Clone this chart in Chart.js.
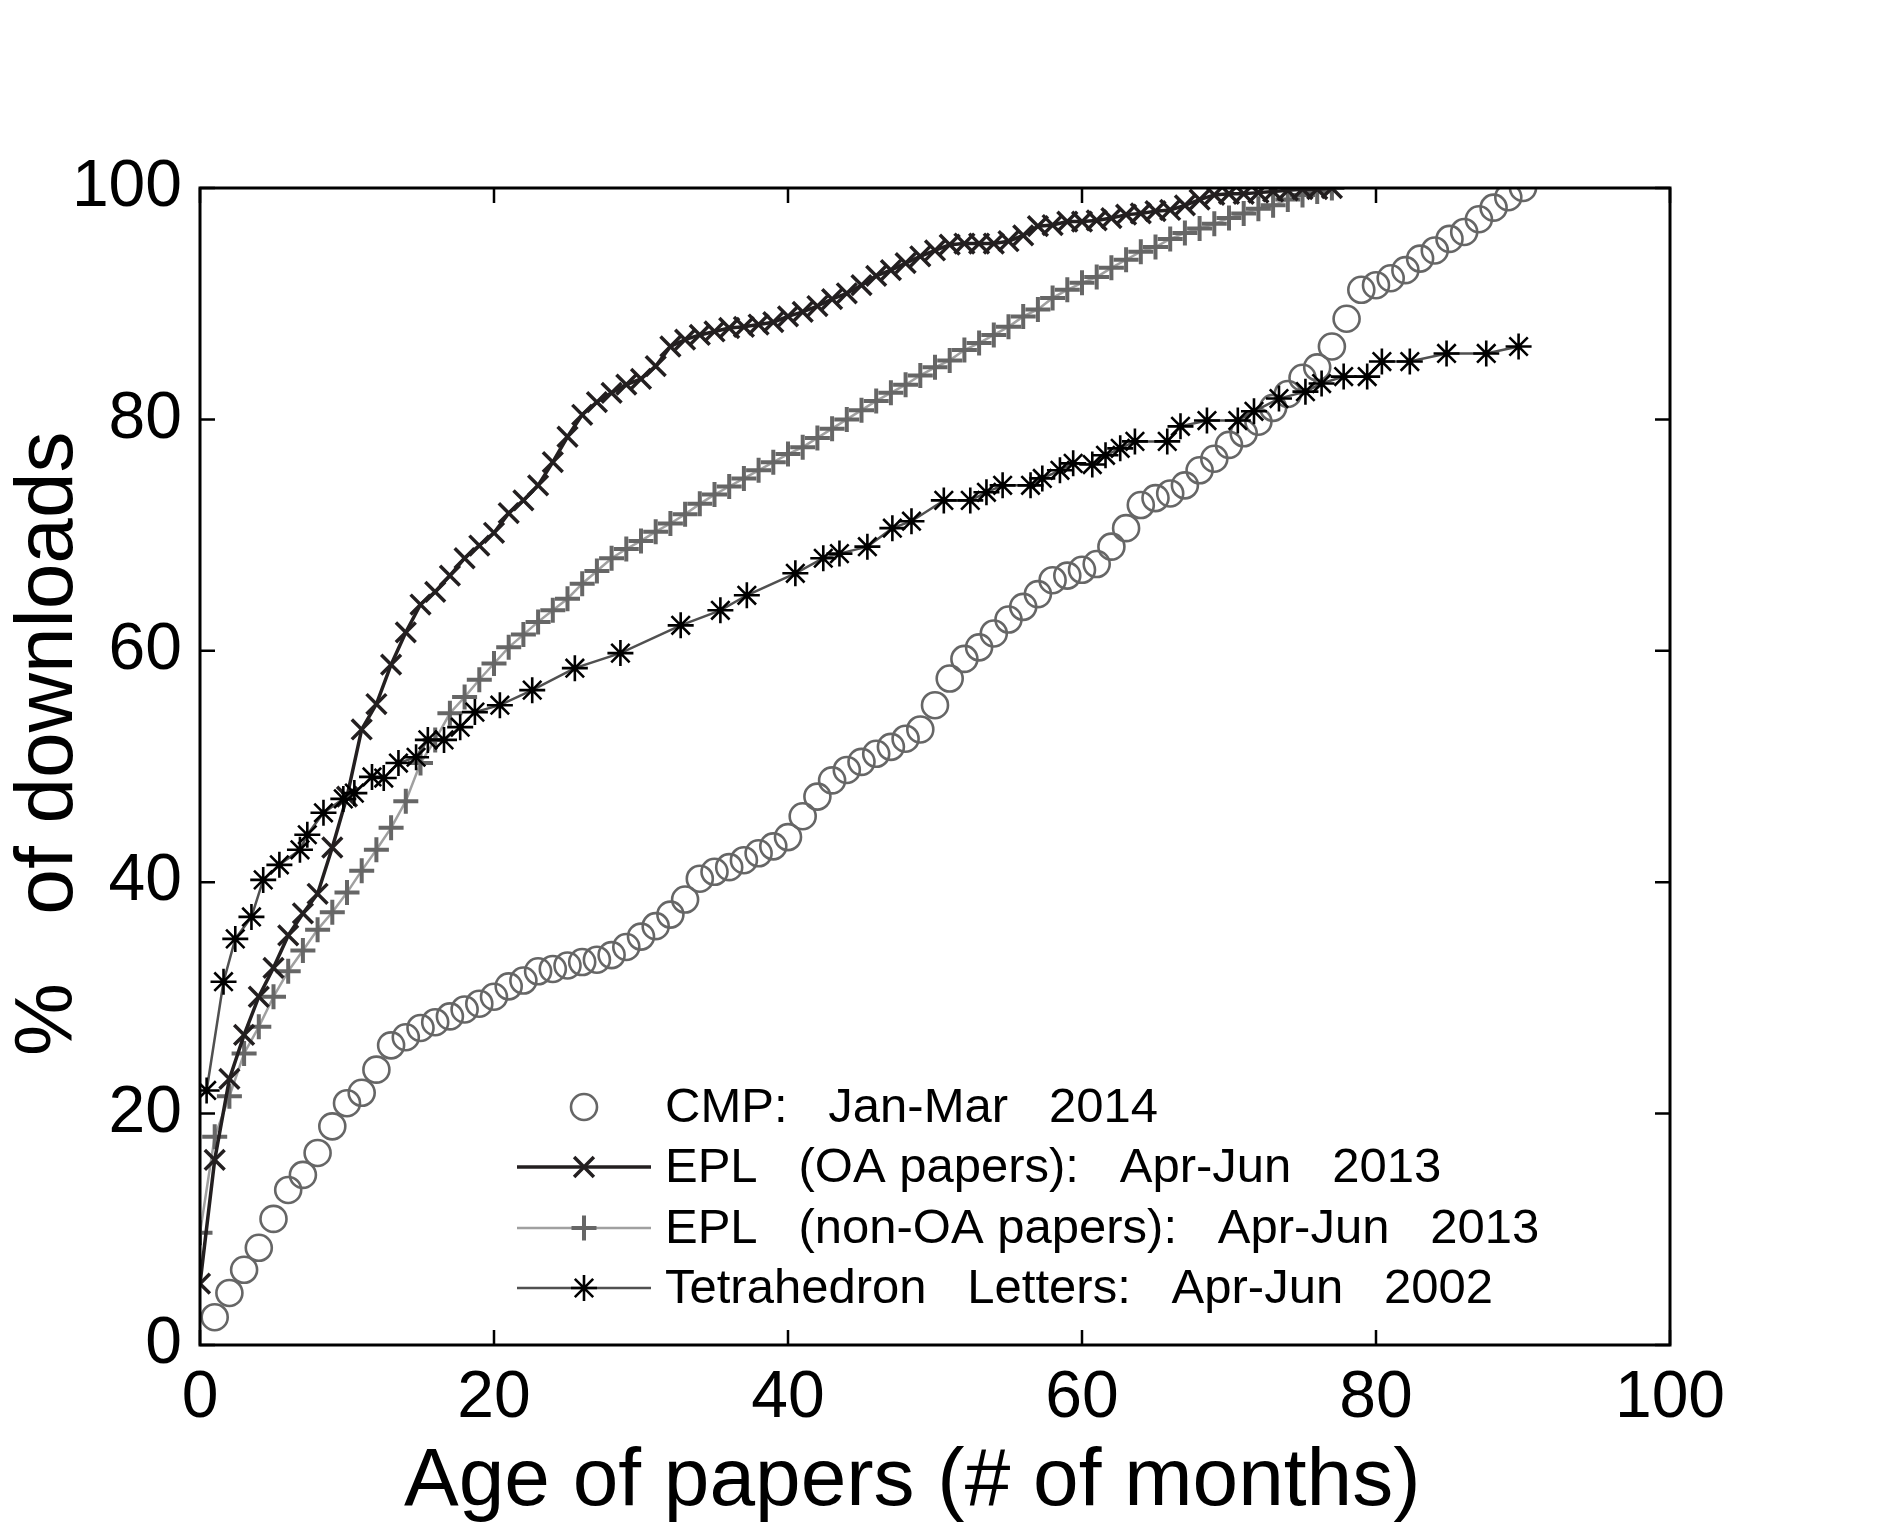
<!DOCTYPE html>
<html>
<head>
<meta charset="utf-8">
<script src="https://cdn.jsdelivr.net/npm/chart.js@4.4.1/dist/chart.umd.min.js"></script>
<style>
  html, body { margin: 0; padding: 0; background: #fff; }
  canvas { display: block; }
</style>
</head>
<body>
<canvas id="downloadsChart" width="1896" height="1524"></canvas>
<script>
// ===== data (age in months, % of downloads) =====
const cmpMonths = [1,2,3,4,5,6,7,8,9,10,11,12,13,14,15,16,17,18,19,20,21,22,23,24,25,26,27,28,29,30,
  31,32,33,34,35,36,37,38,39,40,41,42,43,44,45,46,47,48,49,50,51,52,53,54,55,56,57,58,59,60,
  61,62,63,64,65,66,67,68,69,70,71,72,73,74,75,76,77,78,79,80,81,82,83,84,85,86,87,88,89,90];
const cmpPct = [2.4,4.5,6.5,8.4,10.9,13.4,14.7,16.6,18.9,20.9,
  21.8,23.8,25.9,26.6,27.4,27.9,28.4,29,29.5,30.1,
  31,31.5,32.3,32.5,32.8,33.1,33.3,33.7,34.4,35.3,
  36.2,37.2,38.5,40.3,40.9,41.3,41.9,42.5,43.1,43.9,
  45.7,47.4,48.8,49.7,50.4,51.1,51.7,52.4,53.2,55.3,
  57.6,59.3,60.3,61.5,62.7,63.8,64.9,66.1,66.5,67,
  67.5,69,70.6,72.6,73.2,73.6,74.3,75.6,76.6,77.8,
  78.8,79.8,81,82.2,83.6,84.5,86.3,88.7,91.2,91.6,
  92.2,92.9,93.9,94.6,95.6,96.2,97.3,98.3,99.2,100];

const eplMonths = [0,1,2,3,4,5,6,7,8,9,10,11,12,13,14,15,16,17,18,19,20,21,22,23,24,25,26,27,28,29,
  30,31,32,33,34,35,36,37,38,39,40,41,42,43,44,45,46,47,48,49,50,51,52,53,54,55,56,57,58,59,
  60,61,62,63,64,65,66,67,68,69,70,71,72,73,74,75,76,77];
const oaPct = [5.3,16,23,26.8,30.1,32.6,35.4,37.3,39,43,
  47.4,53.2,55.4,58.8,61.6,64,65.1,66.5,68,69.1,
  70.2,71.9,73,74.3,76.3,78.5,80.4,81.5,82.3,83,
  83.5,84.6,86.3,86.9,87.3,87.6,87.9,88,88.2,88.4,
  88.9,89.3,89.8,90.4,90.9,91.6,92.4,92.9,93.5,94.1,
  94.6,95.1,95.2,95.2,95.2,95.4,95.9,96.7,96.8,97.1,
  97.1,97.2,97.4,97.7,97.8,98,98.1,98.5,99,99.4,
  99.5,99.5,99.6,99.7,99.8,99.9,99.9,100];
const nonOaPct = [9.7,18,21.5,25.2,27.5,30.1,32.3,34.1,35.9,37.4,
  39.1,41,42.8,44.7,47,50.3,52.3,54.6,56,57.5,
  58.9,60.3,61.4,62.5,63.5,64.5,65.8,66.9,68,68.8,
  69.5,70.3,71,71.8,72.7,73.5,74.2,74.9,75.6,76.3,
  77,77.6,78.4,79.2,80,80.8,81.6,82.3,83,83.8,
  84.5,85.1,86,86.6,87.3,88,88.9,89.5,90.5,91.2,
  91.8,92.3,93.1,93.8,94.5,94.9,95.6,96.1,96.5,96.9,
  97.4,97.8,98.2,98.5,99,99.4,99.7,100];

const tetraMonths = [0.45,1.6,2.4,3.5,4.3,5.4,6.8,7.3,8.4,9.75,10.5,11.7,12.5,13.5,14.7,15.5,16.6,17.7,18.7,20.4,
  22.6,25.5,28.6,32.7,35.4,37.2,40.5,42.4,43.5,45.4,47.1,48.4,50.6,52.4,53.5,54.6,56.5,57.3,58.5,59.4,
  60.7,61.6,62.6,63.6,65.8,66.7,68.5,70.6,71.7,73.4,75.2,76.3,77.8,79.4,80.4,82.3,84.8,87.5,89.7];
const tetraPct = [22,31.4,35.1,37,40.2,41.5,42.8,44.1,46,47.2,47.7,49.1,49,50.3,50.8,52.3,52.3,53.4,54.7,55.3,
  56.6,58.5,59.8,62.2,63.5,64.8,66.7,68,68.4,69,70.6,71.2,73,73,73.7,74.3,74.3,74.9,75.6,76.2,
  76.1,76.9,77.5,78.1,78.1,79.4,79.9,79.9,80.7,81.8,82.4,83.1,83.7,83.7,85,85,85.7,85.7,86.3];

const xTicks = [0, 20, 40, 60, 80, 100];
const yTicks = [0, 20, 40, 60, 80, 100];

const legendLabels = [
  'CMP:   Jan-Mar   2014',
  'EPL   (OA papers):   Apr-Jun   2013',
  'EPL   (non-OA papers):   Apr-Jun   2013',
  'Tetrahedron   Letters:   Apr-Jun   2002'
];

const FONT = "'Liberation Sans', Arial, Helvetica, sans-serif";

function pairs(xs, ys) {
  return xs.map((x, i) => ({ x: x, y: ys[i] }));
}

// ===== MATLAB-like box with inward ticks =====
const boxPlugin = {
  id: 'matlabBox',
  afterDatasetsDraw(chart) {
    const { ctx, chartArea: a, scales } = chart;
    const tl = 15;
    ctx.save();
    ctx.strokeStyle = '#000';
    ctx.lineWidth = 2.5;
    ctx.beginPath();
    xTicks.forEach(v => {
      const px = scales.x.getPixelForValue(v);
      ctx.moveTo(px, a.bottom); ctx.lineTo(px, a.bottom - tl);
      ctx.moveTo(px, a.top); ctx.lineTo(px, a.top + tl);
    });
    yTicks.forEach(v => {
      const py = scales.y.getPixelForValue(v);
      ctx.moveTo(a.left, py); ctx.lineTo(a.left + tl, py);
      ctx.moveTo(a.right, py); ctx.lineTo(a.right - tl, py);
    });
    ctx.stroke();
    ctx.lineWidth = 3;
    ctx.strokeRect(a.left, a.top, a.right - a.left, a.bottom - a.top);
    ctx.restore();
  }
};

// ===== legend drawn like the original (line + marker + text) =====
const legendPlugin = {
  id: 'figLegend',
  afterDraw(chart) {
    const ctx = chart.ctx;
    const rows = [1107, 1167, 1228, 1288];
    const markX = 584, lineX0 = 517, lineX1 = 651, textX = 665;
    ctx.save();
    chart.data.datasets.forEach((ds, i) => {
      const y = rows[i];
      if (ds.showLine !== false) {
        ctx.strokeStyle = ds.borderColor;
        ctx.lineWidth = ds.borderWidth;
        ctx.beginPath();
        ctx.moveTo(lineX0, y); ctx.lineTo(lineX1, y);
        ctx.stroke();
      }
      ctx.strokeStyle = ds.pointBorderColor;
      ctx.fillStyle = 'rgba(0,0,0,0)';
      ctx.lineWidth = ds.pointBorderWidth;
      Chart.helpers.drawPoint(ctx, {
        pointStyle: ds.pointStyle, radius: ds.pointRadius, rotation: 0, borderWidth: ds.pointBorderWidth
      }, markX, y);
      ctx.fillStyle = '#000';
      ctx.font = '49px ' + FONT;
      ctx.textAlign = 'left';
      ctx.textBaseline = 'middle';
      ctx.fillText(legendLabels[i], textX, y + 1);
    });
    ctx.restore();
  }
};

const ctx = document.getElementById('downloadsChart').getContext('2d');
const downloadsChart = new Chart(ctx, {
  type: 'scatter',
  data: {
    datasets: [
      {
        label: legendLabels[0],
        data: pairs(cmpMonths, cmpPct),
        showLine: false,
        pointStyle: 'circle',
        pointRadius: 13,
        pointBorderWidth: 2.6,
        pointBorderColor: '#666666',
        pointBackgroundColor: 'rgba(0,0,0,0)',
        borderColor: '#666666',
        order: 3
      },
      {
        label: legendLabels[1],
        data: pairs(eplMonths, oaPct),
        showLine: true,
        borderColor: '#231f20',
        borderWidth: 3.5,
        pointStyle: 'crossRot',
        pointRadius: 14,
        pointBorderWidth: 3.5,
        pointBorderColor: '#231f20',
        pointBackgroundColor: 'rgba(0,0,0,0)',
        order: 1
      },
      {
        label: legendLabels[2],
        data: pairs(eplMonths, nonOaPct),
        showLine: true,
        borderColor: '#a0a0a0',
        borderWidth: 2.5,
        pointStyle: 'cross',
        pointRadius: 12.5,
        pointBorderWidth: 4,
        pointBorderColor: '#666666',
        pointBackgroundColor: 'rgba(0,0,0,0)',
        order: 2
      },
      {
        label: legendLabels[3],
        data: pairs(tetraMonths, tetraPct),
        showLine: true,
        borderColor: '#505050',
        borderWidth: 2.5,
        pointStyle: 'star',
        pointRadius: 13,
        pointBorderWidth: 2.6,
        pointBorderColor: '#000000',
        pointBackgroundColor: 'rgba(0,0,0,0)',
        order: 0
      }
    ]
  },
  options: {
    responsive: false,
    animation: false,
    devicePixelRatio: 1,
    layout: { padding: { top: 188, right: 226, left: 0, bottom: 0 } },
    plugins: {
      legend: { display: false },
      tooltip: { enabled: false }
    },
    elements: { line: { tension: 0 } },
    scales: {
      x: {
        type: 'linear',
        min: 0, max: 100,
        afterFit: s => { s.height = 179; },
        afterBuildTicks: s => { s.ticks = xTicks.map(v => ({ value: v })); },
        grid: { display: false, drawTicks: false },
        border: { display: false },
        ticks: { color: '#000', padding: 14, font: { family: FONT, size: 66 }, maxRotation: 0 },
        title: {
          // trailing space nudges the centred title a little to the left, as in the figure
          display: true, text: 'Age of papers (# of months)  ', color: '#000',
          font: { family: FONT, size: 82, lineHeight: 1.2 }, padding: { top: 0, bottom: -8 }
        }
      },
      y: {
        type: 'linear',
        min: 0, max: 100,
        afterFit: s => { s.width = 200; },
        afterBuildTicks: s => { s.ticks = yTicks.map(v => ({ value: v })); },
        grid: { display: false, drawTicks: false },
        border: { display: false },
        ticks: { color: '#000', padding: 18, font: { family: FONT, size: 66 } },
        title: {
          display: true, text: '  %   of downloads', color: '#000',
          font: { family: FONT, size: 82, lineHeight: 1.2 }, padding: 0
        }
      }
    }
  },
  plugins: [boxPlugin, legendPlugin]
});
</script>
</body>
</html>
